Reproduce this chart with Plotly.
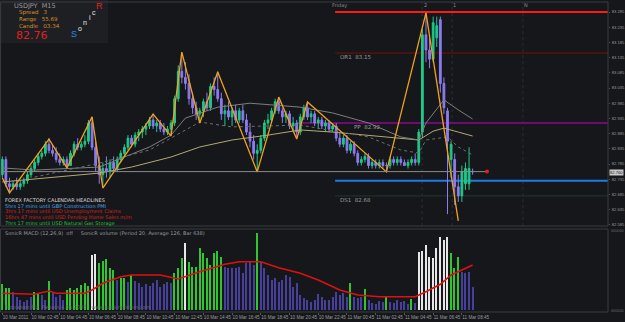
import plotly.graph_objects as go

# ---------------- DATA ----------------
bar_idx = list(range(132))
ohlc = [
 (82.75,82.81,82.74,82.80),(82.80,82.81,82.71,82.72),(82.72,82.74,82.69,82.71),(82.71,82.73,82.70,82.72),
 (82.72,82.74,82.70,82.71),(82.71,82.73,82.70,82.72),(82.72,82.74,82.71,82.73),(82.73,82.76,82.72,82.75),
 (82.75,82.78,82.74,82.77),(82.77,82.80,82.76,82.79),(82.79,82.82,82.78,82.81),(82.81,82.83,82.80,82.82),
 (82.82,82.86,82.81,82.85),(82.85,82.87,82.82,82.83),(82.83,82.85,82.81,82.82),(82.82,82.84,82.79,82.80),
 (82.80,82.82,82.78,82.79),(82.79,82.81,82.78,82.80),(82.80,82.81,82.77,82.78),(82.78,82.83,82.78,82.82),
 (82.82,82.86,82.81,82.85),(82.85,82.87,82.83,82.84),(82.84,82.86,82.83,82.85),(82.85,82.88,82.84,82.86),
 (82.86,82.93,82.85,82.92),(82.92,82.94,82.83,82.84),(82.84,82.86,82.76,82.78),(82.78,82.81,82.72,82.75),
 (82.75,82.79,82.71,82.77),(82.77,82.81,82.74,82.76),(82.76,82.80,82.74,82.79),(82.79,82.81,82.76,82.77),
 (82.77,82.81,82.76,82.80),(82.80,82.83,82.79,82.82),(82.82,82.85,82.81,82.84),(82.84,82.88,82.83,82.87),
 (82.87,82.88,82.84,82.85),(82.85,82.89,82.84,82.88),(82.88,82.90,82.86,82.89),(82.89,82.91,82.87,82.90),
 (82.90,82.92,82.88,82.91),(82.91,82.94,82.90,82.93),(82.93,82.95,82.90,82.91),(82.91,82.93,82.89,82.92),
 (82.92,82.93,82.89,82.90),(82.90,82.92,82.88,82.89),(82.89,82.91,82.88,82.90),(82.90,82.93,82.88,82.92),
 (82.92,83.01,82.91,83.00),(83.00,83.11,82.99,83.09),(83.09,83.15,83.05,83.07),(83.07,83.12,83.03,83.05),
 (83.05,83.08,82.98,83.00),(83.00,83.02,82.95,82.97),(82.97,82.99,82.93,82.95),(82.95,82.97,82.92,82.96),
 (82.96,83.00,82.94,82.99),(82.99,83.02,82.96,82.97),(82.97,83.05,82.96,83.04),(83.04,83.07,83.01,83.03),
 (83.03,83.09,82.99,83.00),(83.00,83.02,82.93,82.95),(82.95,82.98,82.91,82.96),(82.96,82.99,82.93,82.94),
 (82.94,82.97,82.91,82.96),(82.96,82.98,82.92,82.93),(82.93,82.97,82.92,82.96),(82.96,82.98,82.92,82.93),
 (82.93,82.95,82.88,82.89),(82.89,82.92,82.84,82.86),(82.86,82.88,82.80,82.82),(82.82,82.85,82.76,82.83),
 (82.83,82.88,82.82,82.87),(82.87,82.93,82.86,82.92),(82.92,82.95,82.90,82.93),(82.93,82.97,82.92,82.96),
 (82.96,83.00,82.95,82.99),(82.99,83.00,82.95,82.96),(82.96,82.97,82.92,82.94),(82.94,82.96,82.92,82.95),
 (82.95,82.96,82.90,82.91),(82.91,82.94,82.89,82.92),(82.92,82.93,82.87,82.89),(82.89,82.95,82.88,82.94),
 (82.94,82.98,82.93,82.97),(82.97,82.99,82.93,82.94),(82.94,82.96,82.92,82.95),(82.95,82.96,82.91,82.92),
 (82.92,82.94,82.90,82.93),(82.93,82.94,82.90,82.91),(82.91,82.93,82.89,82.92),(82.92,82.93,82.89,82.90),
 (82.90,82.92,82.89,82.91),(82.91,82.92,82.86,82.87),(82.87,82.89,82.84,82.85),(82.85,82.88,82.84,82.87),
 (82.87,82.88,82.82,82.83),(82.83,82.86,82.82,82.85),(82.85,82.86,82.81,82.82),(82.82,82.83,82.78,82.79),
 (82.79,82.81,82.78,82.80),(82.80,82.82,82.79,82.81),(82.81,82.82,82.77,82.78),(82.78,82.80,82.77,82.79),
 (82.79,82.80,82.77,82.78),(82.78,82.80,82.77,82.79),(82.79,82.80,82.77,82.78),(82.78,82.79,82.76,82.78),
 (82.78,82.81,82.77,82.80),(82.80,82.81,82.78,82.79),(82.79,82.81,82.78,82.80),(82.80,82.81,82.78,82.79),
 (82.79,82.80,82.78,82.78),(82.78,82.80,82.77,82.79),(82.79,82.81,82.78,82.80),(82.80,82.82,82.78,82.79),
 (82.79,82.90,82.78,82.89),(82.89,83.23,82.87,83.21),(83.21,83.28,83.12,83.16),(83.16,83.20,83.10,83.13),
 (83.13,83.27,83.12,83.25),(83.20,83.27,83.17,83.24),(83.26,83.27,83.02,83.05),(83.05,83.07,82.95,82.97),
 (82.96,82.97,82.62,82.86),(82.80,82.86,82.74,82.85),(82.80,82.82,82.65,82.71),(82.71,82.75,82.66,82.68),
 (82.68,82.78,82.66,82.76),(82.72,82.79,82.70,82.77),(82.72,82.84,82.70,82.77),(82.76,82.77,82.75,82.76),
]
opens = [r[0] for r in ohlc]
highs = [r[1] for r in ohlc]
lows = [r[2] for r in ohlc]
closes = [r[3] for r in ohlc]

zz_idx = [0, 2, 13, 18, 25, 28, 42, 47, 50, 55, 60, 71, 77, 82, 85, 107, 118, 127]
zz_price = [82.74, 82.69, 82.867, 82.772, 82.94, 82.706, 82.949, 82.877, 83.153, 82.92,
            83.088, 82.759, 83.005, 82.867, 82.989, 82.759, 83.282, 82.598]

ma_slow_idx = [0, 27, 36, 47, 55, 64, 74, 83, 92, 102, 111, 116, 120, 123, 127, 131]
ma_slow = [82.726, 82.755, 82.775, 82.808, 82.841, 82.864, 82.880, 82.897, 82.890, 82.880,
           82.870, 82.864, 82.893, 82.903, 82.890, 82.877]
ma_mid_idx = [0, 9, 27, 41, 47, 51, 60, 69, 83, 92, 102, 111, 116, 118, 123, 127, 131]
ma_mid = [82.772, 82.765, 82.775, 82.841, 82.880, 82.936, 82.972, 82.985, 82.972, 82.953,
          82.920, 82.874, 82.864, 82.920, 82.996, 82.963, 82.933]
ma_fast_idx = [9, 27, 41, 55, 64, 83, 102, 111, 116, 118, 124, 127, 131]
ma_fast = [82.742, 82.788, 82.831, 82.923, 82.907, 82.913, 82.874, 82.831, 82.821, 82.864,
           82.874, 82.841, 82.815]

volume = [257,223,217,183,133,100,83,100,133,183,167,150,100,290,167,133,150,100,200,217,
          200,217,250,267,243,550,557,467,490,510,417,400,300,323,317,283,350,290,267,233,
          257,243,267,300,233,257,283,267,367,417,517,667,483,433,433,617,567,517,450,567,
          590,533,433,417,423,417,433,367,467,483,450,767,477,417,350,300,317,283,300,350,
          333,233,267,150,117,100,83,100,157,133,100,100,133,183,150,167,133,267,133,117,
          133,210,100,67,57,90,77,143,83,67,100,83,90,57,110,67,583,590,650,533,
          517,617,733,700,733,567,417,533,383,367,383,233]
# G = above average (green), W = climax (white), P = below average (purple); 10 bars per group
vol_type = list("GGGPPPPPPG" "GPPGPPPPGG" "GGGGGWWGGG" "GGPGGPGPPP" "PPPPPPPPGG"
                "GWGGGGGGGG" "GGPPPPPPPP" "PGPPPPPPPP" "PPPPPPPPPP" "PPPPPPPGPP"
                "PGPPPPPGPP" "PPPPGPWWWW" "WWWWWGGGPP" "PP")
vol_avg_idx = [0, 9, 13, 15, 23, 25, 28, 33, 36, 44, 49, 55, 62, 66, 72, 77, 83, 88, 94, 99,
               105, 115, 118, 122, 125, 131]
vol_avg = [167, 157, 190, 167, 167, 200, 267, 333, 350, 350, 310, 383, 457, 483, 483, 423, 367,
           300, 200, 150, 133, 133, 183, 257, 350, 450]

price_ticks = [83.285, 83.235, 83.185, 83.135, 83.085, 83.035, 82.985, 82.935, 82.885,
               82.835, 82.785, 82.735, 82.685, 82.635, 82.585]
time_tick_idx = [0, 8, 16, 24, 32, 40, 48, 56, 64, 72, 80, 88, 96, 104, 112, 120, 128]
time_tick_text = ["10 Mar 2011", "10 Mar 02:45", "10 Mar 04:45", "10 Mar 06:45", "10 Mar 08:45",
                  "10 Mar 10:45", "10 Mar 12:45", "10 Mar 14:45", "10 Mar 16:45", "10 Mar 18:45",
                  "10 Mar 20:45", "10 Mar 22:45", "11 Mar 00:45", "11 Mar 02:45", "11 Mar 04:45",
                  "11 Mar 06:45", "11 Mar 08:45"]

level_high = 83.285
level_or1 = 83.15
level_pp = 82.92
level_blue = 82.73
level_ds1 = 82.68
last_price = 82.76

news_lines = [("5hrs 17 mins until GBP Construction PMI", "#4aa8e8"),
              ("3hrs 17 mins until USD Unemployment Claims", "#d82020"),
              ("16hrs 47 mins until USD Pending Home Sales m/m", "#d82020"),
              ("7hrs 17 mins until USD Natural Gas Storage", "#20c040")]

# ---------------- FIGURE ----------------
BG = "#15171a"
W, H = 625, 322
PW, PH = 608, 312          # plot area in pixels (margins r=17, b=10)

def P(x, y):
    return x / PW, (PH - y) / PH

fig = go.Figure()

fig.add_trace(go.Candlestick(
    x=bar_idx, open=opens, high=highs, low=lows, close=closes,
    increasing=dict(line=dict(color="#1fc888", width=1), fillcolor="#1fc888"),
    decreasing=dict(line=dict(color="#8c7cf0", width=1), fillcolor="#8c7cf0"),
    whiskerwidth=0, xaxis="x", yaxis="y", showlegend=False, hoverinfo="skip"))

fig.add_trace(go.Scatter(x=ma_slow_idx, y=ma_slow, mode="lines", line=dict(color="#b4a872", width=1),
                         xaxis="x", yaxis="y", showlegend=False, hoverinfo="skip"))
fig.add_trace(go.Scatter(x=ma_mid_idx, y=ma_mid, mode="lines", line=dict(color="#7e7e7e", width=1),
                         xaxis="x", yaxis="y", showlegend=False, hoverinfo="skip"))
fig.add_trace(go.Scatter(x=ma_fast_idx, y=ma_fast, mode="lines", line=dict(color="#6e6e6e", width=1, dash="dot"),
                         xaxis="x", yaxis="y", showlegend=False, hoverinfo="skip"))
fig.add_trace(go.Scatter(x=zz_idx, y=zz_price, mode="lines", line=dict(color="#f2a21e", width=1.3),
                         xaxis="x", yaxis="y", showlegend=False, hoverinfo="skip"))

# current price line with red dot
fig.add_trace(go.Scatter(x=[-0.6, 135], y=[last_price, last_price], mode="lines",
                         line=dict(color="#8a8a8a", width=1), xaxis="x", yaxis="y",
                         showlegend=False, hoverinfo="skip"))
fig.add_trace(go.Scatter(x=[135], y=[last_price], mode="markers", marker=dict(color="#e02020", size=4),
                         xaxis="x", yaxis="y", showlegend=False, hoverinfo="skip"))

# volume
type_color = {"G": "#2fc62f", "W": "#e6e6e6", "P": "#473f9c"}
type_width = {"G": 0.42, "W": 0.42, "P": 0.28}
fig.add_trace(go.Bar(x=bar_idx, y=volume, marker=dict(color=[type_color[t] for t in vol_type], line=dict(width=0)),
                     width=[type_width[t] for t in vol_type], xaxis="x2", yaxis="y2",
                     showlegend=False, hoverinfo="skip"))
fig.add_trace(go.Scatter(x=vol_avg_idx, y=vol_avg, mode="lines", line=dict(color="#e01010", width=1.6),
                         xaxis="x2", yaxis="y2", showlegend=False, hoverinfo="skip"))

XR = [-0.64, 168.7]
main_dom = [(PH - 226) / PH, (PH - 2) / PH]
vol_dom = [0, (PH - 229) / PH]

axis_font = dict(family="Liberation Sans", size=4.1, color="#9a9a9a")
fig.update_layout(
    width=W, height=H, margin=dict(l=0, r=W - PW, t=0, b=H - PH, autoexpand=False),
    paper_bgcolor=BG, plot_bgcolor=BG, showlegend=False, bargap=0,
    xaxis=dict(domain=[0, 1], range=XR, anchor="y", showticklabels=False, showgrid=False,
               zeroline=False, rangeslider=dict(visible=False), showline=False, automargin=False),
    yaxis=dict(domain=main_dom, range=[82.581, 83.318], side="right", tickvals=price_ticks,
               ticktext=[f"{v:.3f}" for v in price_ticks], tickfont=axis_font, showgrid=False,
               zeroline=False, ticks="outside", ticklen=1, tickcolor="#555", showline=False,
               ticklabelstandoff=1, automargin=False),
    xaxis2=dict(domain=[0, 1], range=XR, anchor="y2", matches="x", tickvals=time_tick_idx,
                ticktext=time_tick_text, tickfont=dict(family="Liberation Sans", size=4.6, color="#9a9a9a"),
                showgrid=False, zeroline=False, tickangle=0,
                ticks="outside", ticklen=2, tickcolor="#555", ticklabelposition="outside right",
                showline=False, automargin=False),
    yaxis2=dict(domain=vol_dom, range=[-20, 810], showticklabels=False, showgrid=False,
                zeroline=False, showline=False, automargin=False),
)

shapes = []
# info box
x0, y0 = P(0, 0); x1, y1 = P(108, 43)
shapes.append(dict(type="rect", xref="paper", yref="paper", x0=x0, y0=y1, x1=x1, y1=y0,
                   fillcolor="#1d1f23", line=dict(width=0), layer="below"))
# level lines
for lvl, col, wd, xs in [(level_high, "#ff1a1a", 2, 92.7), (level_or1, "#7a0e0e", 1, 92.7),
                         (level_pp, "#6e0a74", 2, 82.0), (level_blue, "#1e7ae8", 2, 92.7),
                         (level_ds1, "#1f3a2c", 1, 92.7)]:
    shapes.append(dict(type="line", xref="x", yref="y", x0=xs, x1=XR[1], y0=lvl, y1=lvl,
                       line=dict(color=col, width=wd), layer="below"))
# faint vertical session lines
for vx in [116.9, 125.3, 145.0]:
    shapes.append(dict(type="line", xref="x", yref="paper", x0=vx, x1=vx, y0=main_dom[0], y1=main_dom[1],
                       line=dict(color="#2c2f34", width=1, dash="dot"), layer="below"))
# borders
for dom in [main_dom, vol_dom]:
    shapes.append(dict(type="rect", xref="paper", yref="paper", x0=0.001, x1=1, y0=dom[0], y1=dom[1],
                       line=dict(color="#3a3c40", width=1), fillcolor="rgba(0,0,0,0)"))
fig.update_layout(shapes=shapes)

ann = []
def text(x, y, s, color, size, family="DejaVu Sans", anchor="left", bg=None):
    xp, yp = P(x, y)
    d = dict(xref="paper", yref="paper", x=xp, y=yp, text=s, showarrow=False, xanchor=anchor,
             yanchor="middle", font=dict(family=family, size=size, color=color))
    if bg:
        d["bgcolor"] = bg
        d["borderpad"] = 0
    ann.append(d)

text(12, 6, "USDJPY  M15", "#9a9a9a", 6.5)
text(17, 13, "Spread   3", "#d8902a", 5.5)
text(17, 19.5, "Range   55.69", "#d8902a", 5.5)
text(17, 26, "Candle   03:34", "#d8902a", 5.5)
text(14, 35, "82.76", "#e02020", 11)
text(69, 34, "S", "#2a8ae8", 9, "Liberation Sans")
text(76, 28, "o", "#e8e8e8", 7, "Liberation Sans")
text(81, 23, "n", "#e8e8e8", 7, "Liberation Sans")
text(87, 17.5, "i", "#e8e8e8", 7, "Liberation Sans")
text(90, 12.5, "c", "#e8e8e8", 7, "Liberation Sans")
text(94, 6, "R", "#e82020", 9, "Liberation Sans")

text(3, 200, "FOREX FACTORY CALENDAR HEADLINES", "#d8d8d8", 5)
for k, (s, c) in enumerate(news_lines):
    text(3, 206 + k * 5.8, s, c, 5)

text(338, 57, f"OR1  {level_or1:.2f}", "#9a9a9a", 5.5)
text(352, 127, f"PP  {level_pp:.2f}", "#9a9a9a", 5.5)
text(338, 200, f"DS1  {level_ds1:.2f}", "#9a9a9a", 5.5)
text(330, 5, "Friday", "#8a8a8a", 5)
text(422, 5, "2", "#8a8a8a", 5)
text(451, 5, "1", "#8a8a8a", 5)
text(522, 5, "N", "#8a8a8a", 5)

text(3, 233, "SonicR MACD (12,26,9)  off     SonicR volume (Period 20, Average 126, Bar 638)", "#9a9a9a", 5)
text(3, 307, "Indicators Plz. Pattern 4.0p 2007 - www.sonicrsystem.com", "#6a6a6a", 5)

# current price tag on the axis
xp, yp = P(608.5, 172)
ann.append(dict(xref="paper", yref="paper", x=xp, y=yp, text=f"{last_price:.3f}", showarrow=False,
                xanchor="left", yanchor="middle", bgcolor="#c8c8c8", borderpad=0,
                font=dict(family="Liberation Sans", size=4.1, color="#202020")))
text(609, 231, "000000", "#6a6a6a", 3.8, "Liberation Sans")
text(609, 311, "000000", "#6a6a6a", 3.8, "Liberation Sans")
fig.update_layout(annotations=ann)

fig.write_html("out.html")
